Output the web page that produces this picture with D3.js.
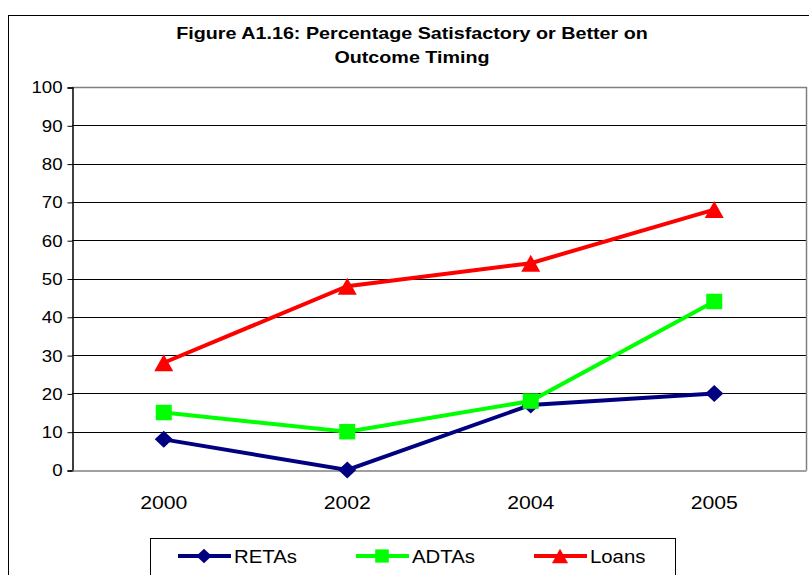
<!DOCTYPE html>
<html>
<head>
<meta charset="utf-8">
<script src="https://cdn.jsdelivr.net/npm/d3@7"></script>
<style>
	body { margin:0; background:#fff; }
	svg { display:block; font-family: "Liberation Sans", Arial, sans-serif; }
</style>
</head>
<body>
<svg id="chart" width="809" height="575"></svg>
<script>
var years = ["2000", "2002", "2004", "2005"];
var retas = [8, 0, 17, 20];
var adtas = [15, 10, 18, 44];
var loans = [28, 48, 54, 68];
var yTicks = [0, 10, 20, 30, 40, 50, 60, 70, 80, 90, 100];
var titleLines = ["Figure A1.16: Percentage Satisfactory or Better on", "Outcome Timing"];

// marker shapes (w x h boxes, drawn around the point)
var diamond = function(w, h){ return "M0," + (-h/2) + "L" + (w/2) + ",0L0," + (h/2) + "L" + (-w/2) + ",0Z"; };
var square = function(w, h){ return "M" + (-w/2) + "," + (-h/2) + "h" + w + "v" + h + "h" + (-w) + "Z"; };
var triangle = function(w, h){ return "M0," + (-h/2) + "L" + (w/2) + "," + (h/2) + "L" + (-w/2) + "," + (h/2) + "Z"; };

var series = [
	{ name: "RETAs", values: retas, color: "#000080", shape: diamond, w: 18, h: 17 },
	{ name: "ADTAs", values: adtas, color: "#00ff00", shape: square, w: 16, h: 15.5 },
	{ name: "Loans", values: loans, color: "#ff0000", shape: triangle, w: 19, h: 17 }
];

var svg = d3.select("#chart");

// outer frame
svg.append("rect")
	.attr("x", 8.5).attr("y", 15.5)
	.attr("width", 820).attr("height", 600)
	.attr("fill", "#fff").attr("stroke", "#000").attr("stroke-width", 1);

// title
svg.append("g").selectAll("text")
	.data(titleLines)
	.enter().append("text")
	.attr("transform", function(d, i){ return "translate(412," + (39 + i * 24) + ") scale(1.16,1)"; })
	.attr("text-anchor", "middle")
	.attr("font-size", "17px")
	.attr("font-weight", "bold")
	.text(function(d){ return d; });

var plotL = 72, plotR = 806, plotT = 87, plotB = 470;

var x = d3.scaleBand().domain(years).range([plotL, plotR]);
var y = d3.scaleLinear().domain([0, 100]).range([plotB, plotT]);

// gridlines
svg.append("g").selectAll("line")
	.data(yTicks.filter(function(t){ return t > 0 && t < 100; }))
	.enter().append("line")
	.attr("x1", plotL).attr("x2", plotR)
	.attr("y1", function(d){ return Math.round(y(d)) + 0.5; })
	.attr("y2", function(d){ return Math.round(y(d)) + 0.5; })
	.attr("stroke", "#000").attr("stroke-width", 1);

// plot border top/right
svg.append("path")
	.attr("d", "M" + plotL + "," + (plotT + 0.5) + "H" + (plotR + 0.5) + "V" + (plotB + 0.5))
	.attr("fill", "none").attr("stroke", "#808080").attr("stroke-width", 1.5);

// y axis
var yAxis = svg.append("g")
	.attr("transform", "translate(" + (plotL + 0.5) + ",0.5)")
	.call(d3.axisLeft(y).tickValues(yTicks).tickSize(5).tickPadding(4));
yAxis.select(".domain").attr("stroke", "#000").attr("stroke-width", 1.5);
yAxis.selectAll(".tick line").attr("stroke", "#000");
yAxis.selectAll("text")
	.attr("font-size", "17px").attr("fill", "#000")
	.attr("font-family", "Liberation Sans, Arial, sans-serif")
	.attr("transform", "scale(1.1,1)");

// x axis
var xAxis = svg.append("g")
	.attr("transform", "translate(0," + (plotB + 0.5) + ")")
	.call(d3.axisBottom(x).tickSize(0).tickPadding(26));
xAxis.select(".domain").attr("stroke", "#808080").attr("stroke-width", 1.5);
xAxis.selectAll("text")
	.attr("font-size", "18px").attr("fill", "#000")
	.attr("font-family", "Liberation Sans, Arial, sans-serif")
	.attr("transform", "scale(1.18,1)");

var cx = function(i){ return x(years[i]) + x.bandwidth() / 2; };

var line = d3.line()
	.x(function(d, i){ return cx(i); })
	.y(function(d){ return y(d); });

series.forEach(function(s){
	var g = svg.append("g");
	g.append("path")
		.attr("d", line(s.values))
		.attr("fill", "none")
		.attr("stroke", s.color)
		.attr("stroke-width", 4);
	g.selectAll("path.marker")
		.data(s.values)
		.enter().append("path")
		.attr("class", "marker")
		.attr("d", s.shape(s.w, s.h))
		.attr("transform", function(d, i){ return "translate(" + cx(i) + "," + y(d) + ")"; })
		.attr("fill", s.color);
});

// legend
var legend = svg.append("g");
legend.append("rect")
	.attr("x", 150.5).attr("y", 538.5)
	.attr("width", 525).attr("height", 50)
	.attr("fill", "#fff").attr("stroke", "#000").attr("stroke-width", 1);

var legendX = [178, 356, 534];
series.forEach(function(s, i){
	var lg = legend.append("g").attr("transform", "translate(" + legendX[i] + ",556)");
	lg.append("line").attr("x1", 0).attr("x2", 53).attr("stroke", s.color).attr("stroke-width", 4);
	lg.append("path").attr("d", s.shape(s.w * 0.85, s.h * 0.85)).attr("transform", "translate(26,0)").attr("fill", s.color);
	lg.append("text")
		.attr("transform", "translate(56,7) scale(1.1,1)")
		.attr("font-size", "18.5px").text(s.name);
});
</script>
</body>
</html>
